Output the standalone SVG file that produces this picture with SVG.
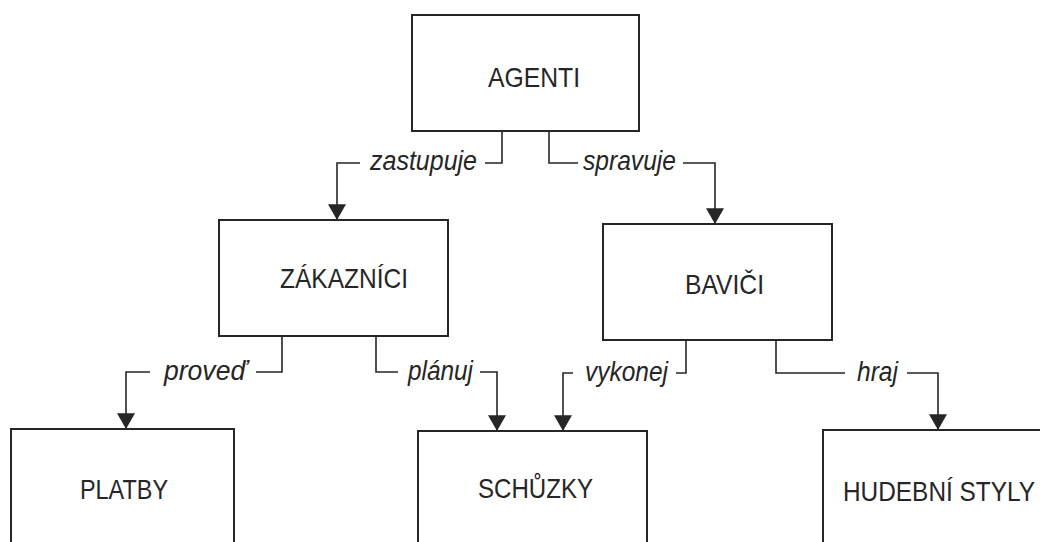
<svg xmlns="http://www.w3.org/2000/svg" width="1040" height="542" viewBox="0 0 1040 542">
<style>
.box{fill:#fff;stroke:#262626;stroke-width:2}
.t{font-family:"Liberation Sans",Arial,sans-serif;font-size:28px;fill:#262626}
.l{font-family:"Liberation Sans",Arial,sans-serif;font-size:27px;font-style:italic;fill:#262626}
.c{fill:none;stroke:#262626;stroke-width:1.6;marker-end:url(#ah)}
</style>
<defs>
<marker id="ah" markerUnits="userSpaceOnUse" markerWidth="16" markerHeight="18" refX="14" refY="0" viewBox="0 -8 14 16" orient="auto">
<path d="M0,-8 L14,0 L0,8 Z" fill="#262626"/>
</marker>
</defs>
<rect width="1040" height="542" fill="#fff"/>
<g id="connectors">
<path class="c" d="M502,131 V163 H485 M360,163 H337 V220"/>
<path class="c" d="M549,131 V163 H578 M683,163 H715 V224"/>
<path class="c" d="M282,336 V372 H256 M150,372 H126 V429"/>
<path class="c" d="M376,336 V372 H398 M480,372 H497 V431"/>
<path class="c" d="M686,340 V373 H676 M573,373 H563 V431"/>
<path class="c" d="M776,340 V373 H845 M907,373 H938 V430"/>
<text class="l" x="370" y="170" textLength="107" lengthAdjust="spacingAndGlyphs">zastupuje</text>
<text class="l" x="583" y="170" textLength="93" lengthAdjust="spacingAndGlyphs">spravuje</text>
<text class="l" x="164" y="380" textLength="83" lengthAdjust="spacingAndGlyphs">proveď</text>
<text class="l" x="408" y="380" textLength="65" lengthAdjust="spacingAndGlyphs">plánuj</text>
<text class="l" x="585" y="381" textLength="83" lengthAdjust="spacingAndGlyphs">vykonej</text>
<text class="l" x="857" y="381" textLength="41" lengthAdjust="spacingAndGlyphs">hraj</text>
</g>
<g id="agenti">
<rect class="box" x="412" y="15" width="227" height="116"/>
<text class="t" x="488" y="87" textLength="92" lengthAdjust="spacingAndGlyphs">AGENTI</text>
</g>
<g id="zakaznici">
<rect class="box" x="219" y="220" width="229" height="116"/>
<text class="t" x="280" y="288" textLength="128" lengthAdjust="spacingAndGlyphs">ZÁKAZNÍCI</text>
</g>
<g id="bavici">
<rect class="box" x="603" y="224" width="229" height="116"/>
<text class="t" x="685" y="294" textLength="79" lengthAdjust="spacingAndGlyphs">BAVIČI</text>
</g>
<g id="platby">
<rect class="box" x="11" y="429" width="223" height="140"/>
<text class="t" x="80" y="499" textLength="88" lengthAdjust="spacingAndGlyphs">PLATBY</text>
</g>
<g id="schuzky">
<rect class="box" x="418" y="431" width="229" height="140"/>
<text class="t" x="478" y="498" textLength="115" lengthAdjust="spacingAndGlyphs">SCHŮZKY</text>
</g>
<g id="hudebni">
<rect class="box" x="823" y="430" width="240" height="140"/>
<text class="t" x="843" y="501" textLength="192" lengthAdjust="spacingAndGlyphs">HUDEBNÍ STYLY</text>
</g>
</svg>
